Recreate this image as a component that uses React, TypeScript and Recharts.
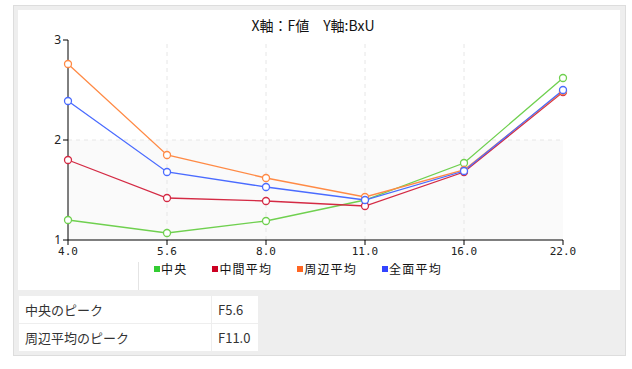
import { CartesianGrid, Line, LineChart, ReferenceArea, ReferenceLine, XAxis, YAxis } from "recharts";

const fValues = ["4.0", "5.6", "8.0", "11.0", "16.0", "22.0"];
const centerValues = [1.2, 1.07, 1.19, 1.4, 1.77, 2.62];
const middleValues = [1.8, 1.42, 1.39, 1.34, 1.68, 2.48];
const edgeValues = [2.76, 1.85, 1.62, 1.43, 1.7, 2.49];
const allValues = [2.39, 1.68, 1.53, 1.4, 1.69, 2.5];

const seriesKeys = ["center", "middle", "edge", "all"];
const seriesNames = ["中央", "中間平均", "周辺平均", "全面平均"];
const lineColors = ["#6fd04f", "#d42a44", "#ff8a45", "#4a6bff"];
const legendColors = ["#33cc33", "#cc0022", "#ff6622", "#3344ff"];
const yTicks = [1, 2, 3];

const peakLabels = ["中央のピーク", "周辺平均のピーク"];
const peakValues = ["F5.6", "F11.0"];

const data = fValues.map((f, i) => ({
  f,
  center: centerValues[i],
  middle: middleValues[i],
  edge: edgeValues[i],
  all: allValues[i],
}));

const jp = '"Noto Sans CJK JP", "Noto Sans", sans-serif';

export default function App() {
  return (
    <div style={{ position: "absolute", left: 0, top: 0, width: 632, height: 369, background: "#fff", fontFamily: jp }}>
      {/* outer frame */}
      <div
        style={{
          position: "absolute",
          left: 13,
          top: 5,
          width: 611,
          height: 349,
          background: "#eeeeee",
          border: "1px solid #dddddd",
        }}
      />
      {/* chart panel */}
      <div style={{ position: "absolute", left: 18, top: 10, width: 602, height: 280, background: "#fff" }}>
        <div
          style={{
            position: "absolute",
            left: 0,
            width: 590,
            top: 5,
            textAlign: "center",
            fontSize: 14,
            color: "#111",
          }}
        >
          X軸：F値　Y軸:BxU
        </div>
        <LineChart width={602} height={280} data={data} margin={{ top: 30, right: 57, bottom: 20, left: 0 }}>
          <CartesianGrid horizontal={false} vertical={false} />
          <ReferenceArea y1={1} y2={2} fill="#fafafa" fillOpacity={1} stroke="none" ifOverflow="visible" />
          <ReferenceLine y={2} stroke="#e6e6e6" strokeDasharray="4 4" />
          {fValues.slice(1, -1).map((v) => (
            <ReferenceLine key={v} x={v} stroke="#e6e6e6" strokeDasharray="4 4" />
          ))}
          <XAxis
            dataKey="f"
            height={30}
            tickSize={5}
            axisLine={{ stroke: "#000" }}
            tickLine={{ stroke: "#000" }}
            tick={{ fill: "#222", fontSize: 11, fontFamily: '"DejaVu Sans Mono", monospace' }}
          />
          <YAxis
            width={50}
            domain={[1, 3]}
            ticks={yTicks}
            tickSize={5}
            axisLine={{ stroke: "#000" }}
            tickLine={{ stroke: "#000" }}
            tick={{ fill: "#222", fontSize: 12, fontFamily: '"Noto Sans", sans-serif' }}
          />
          {seriesKeys.map((k, i) => (
            <Line
              key={k}
              dataKey={k}
              name={seriesNames[i]}
              type="linear"
              stroke={lineColors[i]}
              strokeWidth={1.3}
              dot={{ r: 3.5, fill: "#fff", stroke: lineColors[i], strokeWidth: 1.3 }}
              activeDot={false}
              isAnimationActive={false}
            />
          ))}
        </LineChart>
        {/* legend */}
        <div
          style={{
            position: "absolute",
            left: 120,
            top: 252,
            width: 1,
            height: 28,
            background: "#e4e4e4",
          }}
        />
        <div
          style={{
            position: "absolute",
            left: 136,
            top: 250,
            display: "flex",
            alignItems: "center",
            fontSize: 12,
            color: "#111",
            whiteSpace: "nowrap",
          }}
        >
          {seriesNames.map((n, i) => (
            <div key={n} style={{ display: "flex", alignItems: "center", marginRight: 25 }}>
              <span style={{ display: "inline-block", width: 6, height: 6, background: legendColors[i], marginRight: 1 }} />
              <span style={{ letterSpacing: "1.2px" }}>{n}</span>
            </div>
          ))}
        </div>
      </div>
      {/* peak table */}
      <table
        style={{
          position: "absolute",
          left: 18,
          top: 295,
          borderCollapse: "collapse",
          fontSize: 13,
          color: "#333",
        }}
      >
        <tbody>
          {peakLabels.map((label, i) => (
            <tr key={label} style={{ height: 28 }}>
              <td style={{ width: 180, background: "#fff", border: "1px solid #eeeeee", padding: "0 6px" }}>{label}</td>
              <td style={{ width: 34, background: "#fff", border: "1px solid #eeeeee", padding: "0 6px" }}>
                {peakValues[i]}
              </td>
            </tr>
          ))}
        </tbody>
      </table>
    </div>
  );
}
